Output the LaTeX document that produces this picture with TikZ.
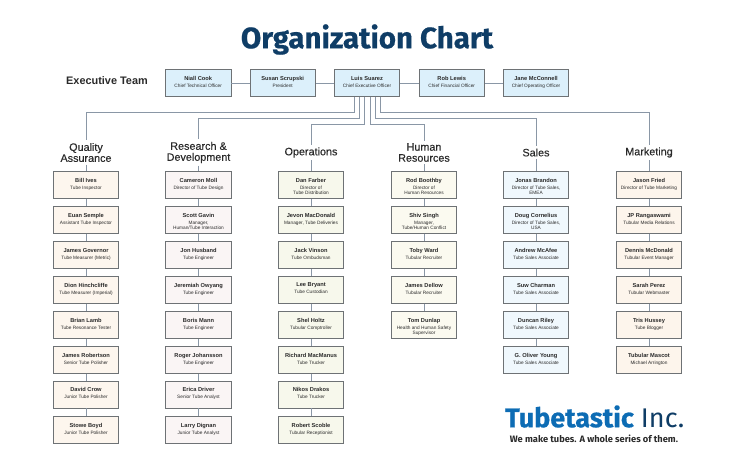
\documentclass[tikz,border=0pt]{standalone}
\usepackage{fontspec}
\setmainfont{Liberation Sans}
\newfontfamily\logofont{Fira Sans}
\newfontfamily\logoheavy[BoldFeatures={FakeBold=0.6}]{Fira Sans}
\newfontfamily\deptfont[FakeBold=0.35]{Liberation Sans}
\definecolor{titleblue}{HTML}{0F3D66}
\definecolor{logoblue}{HTML}{0D6CB4}
\definecolor{linegray}{HTML}{8A97A6}
\definecolor{boxgray}{HTML}{6E7275}
\definecolor{inkgray}{HTML}{2A2A2A}
\definecolor{execfill}{HTML}{DCF0FB}
\definecolor{qafill}{HTML}{FDF6EE}
\definecolor{rdfill}{HTML}{FAF5F5}
\definecolor{opsfill}{HTML}{F7F8EC}
\definecolor{hrfill}{HTML}{FBFAF0}
\definecolor{salesfill}{HTML}{F0F8FD}
\definecolor{mktfill}{HTML}{FDF5EC}
\newcommand{\staff}[2]{\parbox[c][13.5pt][t]{64pt}{\centering\fontsize{5.7}{6}\selectfont\textbf{#1}\\[1.9pt]\fontsize{4.75}{5.2}\selectfont #2}}
\tikzset{
  staffbox/.style={draw=boxgray,line width=0.8pt,minimum width=65.5pt,minimum height=27pt,inner sep=0pt,text=inkgray},
  dept/.style={align=center,inner sep=2.5pt,text=inkgray,font=\deptfont\fontsize{10.8}{11}\selectfont},
  link/.style={draw=linegray,line width=1pt}
}
\begin{document}
\begin{tikzpicture}[x=1pt,y=-1pt]
\useasboundingbox (0,0) rectangle (735,475);
\node[text=titleblue,font=\logoheavy\bfseries\fontsize{29.5}{30}\selectfont] (title) at (367,39.5) {Organization Chart};
\node[text=inkgray,font=\bfseries\fontsize{10.9}{11}\selectfont] (team) at (107,81) {Executive Team};

\node[staffbox,fill=execfill] (niall) at (198.2,83) {\staff{Niall Cook}{Chief Technical Officer}};
\node[staffbox,fill=execfill] (susan) at (282.7,83) {\staff{Susan Scrupski}{President}};
\node[staffbox,fill=execfill] (luis) at (367,83) {\staff{Luis Suarez}{Chief Executive Officer}};
\node[staffbox,fill=execfill] (rob) at (451.7,83) {\staff{Rob Lewis}{Chief Financial Officer}};
\node[staffbox,fill=execfill] (jane) at (536,83) {\staff{Jane McConnell}{Chief Operating Officer}};

\node[dept] (qa) at (86,152.5) {Quality\\Assurance};
\node[dept] (rd) at (198.5,152.5) {Research \&\\Development};
\node[dept] (ops) at (311,152.5) {Operations};
\node[dept] (hr) at (424,152.5) {Human\\Resources};
\node[dept] (sales) at (536,152.5) {Sales};
\node[dept] (mkt) at (649,152.5) {Marketing};

\node[staffbox,fill=qafill] (qa1) at (86,184.7) {\staff{Bill Ives}{Tube Inspector}};
\node[staffbox,fill=qafill] (qa2) at (86,219.8) {\staff{Euan Semple}{Assistant Tube Inspector}};
\node[staffbox,fill=qafill] (qa3) at (86,254.8) {\staff{James Governor}{Tube Measurer (Metric)}};
\node[staffbox,fill=qafill] (qa4) at (86,289.7) {\staff{Dion Hinchcliffe}{Tube Measurer (Imperial)}};
\node[staffbox,fill=qafill] (qa5) at (86,324.7) {\staff{Brian Lamb}{Tube Resonance Tester}};
\node[staffbox,fill=qafill] (qa6) at (86,359.7) {\staff{James Robertson}{Senior Tube Polisher}};
\node[staffbox,fill=qafill] (qa7) at (86,394.5) {\staff{David Crow}{Junior Tube Polisher}};
\node[staffbox,fill=qafill] (qa8) at (86,429.7) {\staff{Stowe Boyd}{Junior Tube Polisher}};

\node[staffbox,fill=rdfill] (rd1) at (198.5,184.7) {\staff{Cameron Moll}{Director of Tube Design}};
\node[staffbox,fill=rdfill] (rd2) at (198.5,219.8) {\staff{Scott Gavin}{Manager,\\Human/Tube Interaction}};
\node[staffbox,fill=rdfill] (rd3) at (198.5,254.8) {\staff{Jon Husband}{Tube Engineer}};
\node[staffbox,fill=rdfill] (rd4) at (198.5,289.7) {\staff{Jeremiah Owyang}{Tube Engineer}};
\node[staffbox,fill=rdfill] (rd5) at (198.5,324.7) {\staff{Boris Mann}{Tube Engineer}};
\node[staffbox,fill=rdfill] (rd6) at (198.5,359.7) {\staff{Roger Johansson}{Tube Engineer}};
\node[staffbox,fill=rdfill] (rd7) at (198.5,394.5) {\staff{Erica Driver}{Senior Tube Analyst}};
\node[staffbox,fill=rdfill] (rd8) at (198.5,429.7) {\staff{Larry Dignan}{Junior Tube Analyst}};

\node[staffbox,fill=opsfill] (ops1) at (311,184.7) {\staff{Dan Farber}{Director of\\Tube Distribution}};
\node[staffbox,fill=opsfill] (ops2) at (311,219.8) {\staff{Jevon MacDonald}{Manager, Tube Deliveries}};
\node[staffbox,fill=opsfill] (ops3) at (311,254.8) {\staff{Jack Vinson}{Tube Ombudsman}};
\node[staffbox,fill=opsfill] (ops4) at (311,289.7) {\staff{Lee Bryant}{Tube Custodian}};
\node[staffbox,fill=opsfill] (ops5) at (311,324.7) {\staff{Shel Holtz}{Tubular Comptroller}};
\node[staffbox,fill=opsfill] (ops6) at (311,359.7) {\staff{Richard MacManus}{Tube Trucker}};
\node[staffbox,fill=opsfill] (ops7) at (311,394.5) {\staff{Nikos Drakos}{Tube Trucker}};
\node[staffbox,fill=opsfill] (ops8) at (311,429.7) {\staff{Robert Scoble}{Tubular Receptionist}};

\node[staffbox,fill=hrfill] (hr1) at (424,184.7) {\staff{Rod Boothby}{Director of\\Human Resources}};
\node[staffbox,fill=hrfill] (hr2) at (424,219.8) {\staff{Shiv Singh}{Manager,\\Tube/Human Conflict}};
\node[staffbox,fill=hrfill] (hr3) at (424,254.8) {\staff{Toby Ward}{Tubular Recruiter}};
\node[staffbox,fill=hrfill] (hr4) at (424,289.7) {\staff{James Dellow}{Tubular Recruiter}};
\node[staffbox,fill=hrfill] (hr5) at (424,324.7) {\staff{Tom Dunlap}{Health and Human Safety\\Supervisor}};

\node[staffbox,fill=salesfill] (sales1) at (536,184.7) {\staff{Jonas Brandon}{Director of Tube Sales,\\EMEA}};
\node[staffbox,fill=salesfill] (sales2) at (536,219.8) {\staff{Doug Cornelius}{Director of Tube Sales,\\USA}};
\node[staffbox,fill=salesfill] (sales3) at (536,254.8) {\staff{Andrew McAfee}{Tube Sales Associate}};
\node[staffbox,fill=salesfill] (sales4) at (536,289.7) {\staff{Suw Charman}{Tube Sales Associate}};
\node[staffbox,fill=salesfill] (sales5) at (536,324.7) {\staff{Duncan Riley}{Tube Sales Associate}};
\node[staffbox,fill=salesfill] (sales6) at (536,359.7) {\staff{G. Oliver Young}{Tube Sales Associate}};

\node[staffbox,fill=mktfill] (mkt1) at (649,184.7) {\staff{Jason Fried}{Director of Tube Marketing}};
\node[staffbox,fill=mktfill] (mkt2) at (649,219.8) {\staff{JP Rangaswami}{Tubular Media Relations}};
\node[staffbox,fill=mktfill] (mkt3) at (649,254.8) {\staff{Dennis McDonald}{Tubular Event Manager}};
\node[staffbox,fill=mktfill] (mkt4) at (649,289.7) {\staff{Sarah Perez}{Tubular Webmaster}};
\node[staffbox,fill=mktfill] (mkt5) at (649,324.7) {\staff{Tris Hussey}{Tube Blogger}};
\node[staffbox,fill=mktfill] (mkt6) at (649,359.7) {\staff{Tubular Mascot}{Michael Arrington}};

\node[anchor=west,inner sep=0pt,font=\logofont\fontsize{27}{28}\selectfont] (logo) at (505,416.5) {\textcolor{logoblue}{\logoheavy\bfseries Tubetastic} \textcolor{titleblue}{Inc.}};
\node[text=inkgray,inner sep=0pt,font=\logofont\bfseries\fontsize{9.3}{10}\selectfont] (slogan) at (594,439) {We make tubes. A whole series of them.};

\path[link] (niall) -- (susan);
\path[link] (susan) -- (luis);
\path[link] (luis) -- (rob);
\path[link] (rob) -- (jane);

% ties under the chief executive
\coordinate (t1) at (354,112.7);
\coordinate (t2) at (359.7,118.3);
\coordinate (t3) at (364.7,124);
\coordinate (t4) at (370,124);
\coordinate (t5) at (375.3,118.3);
\coordinate (t6) at (380.7,112.7);
\path[link] (luis.south -| t1) -- (t1) -| (qa.north);
\path[link] (luis.south -| t2) -- (t2) -| (rd.north);
\path[link] (luis.south -| t3) -- (t3) -| (ops.north);
\path[link] (luis.south -| t4) -- (t4) -| (hr.north);
\path[link] (luis.south -| t5) -- (t5) -| (sales.north);
\path[link] (luis.south -| t6) -- (t6) -| (mkt.north);

\path[link] (qa) -- (qa1);
\path[link] (qa1) -- (qa2);
\path[link] (qa2) -- (qa3);
\path[link] (qa3) -- (qa4);
\path[link] (qa4) -- (qa5);
\path[link] (qa5) -- (qa6);
\path[link] (qa6) -- (qa7);
\path[link] (qa7) -- (qa8);

\path[link] (rd) -- (rd1);
\path[link] (rd1) -- (rd2);
\path[link] (rd2) -- (rd3);
\path[link] (rd3) -- (rd4);
\path[link] (rd4) -- (rd5);
\path[link] (rd5) -- (rd6);
\path[link] (rd6) -- (rd7);
\path[link] (rd7) -- (rd8);

\path[link] (ops) -- (ops1);
\path[link] (ops1) -- (ops2);
\path[link] (ops2) -- (ops3);
\path[link] (ops3) -- (ops4);
\path[link] (ops4) -- (ops5);
\path[link] (ops5) -- (ops6);
\path[link] (ops6) -- (ops7);
\path[link] (ops7) -- (ops8);

\path[link] (hr) -- (hr1);
\path[link] (hr1) -- (hr2);
\path[link] (hr2) -- (hr3);
\path[link] (hr3) -- (hr4);
\path[link] (hr4) -- (hr5);

\path[link] (sales) -- (sales1);
\path[link] (sales1) -- (sales2);
\path[link] (sales2) -- (sales3);
\path[link] (sales3) -- (sales4);
\path[link] (sales4) -- (sales5);
\path[link] (sales5) -- (sales6);

\path[link] (mkt) -- (mkt1);
\path[link] (mkt1) -- (mkt2);
\path[link] (mkt2) -- (mkt3);
\path[link] (mkt3) -- (mkt4);
\path[link] (mkt4) -- (mkt5);
\path[link] (mkt5) -- (mkt6);
\end{tikzpicture}
\end{document}
